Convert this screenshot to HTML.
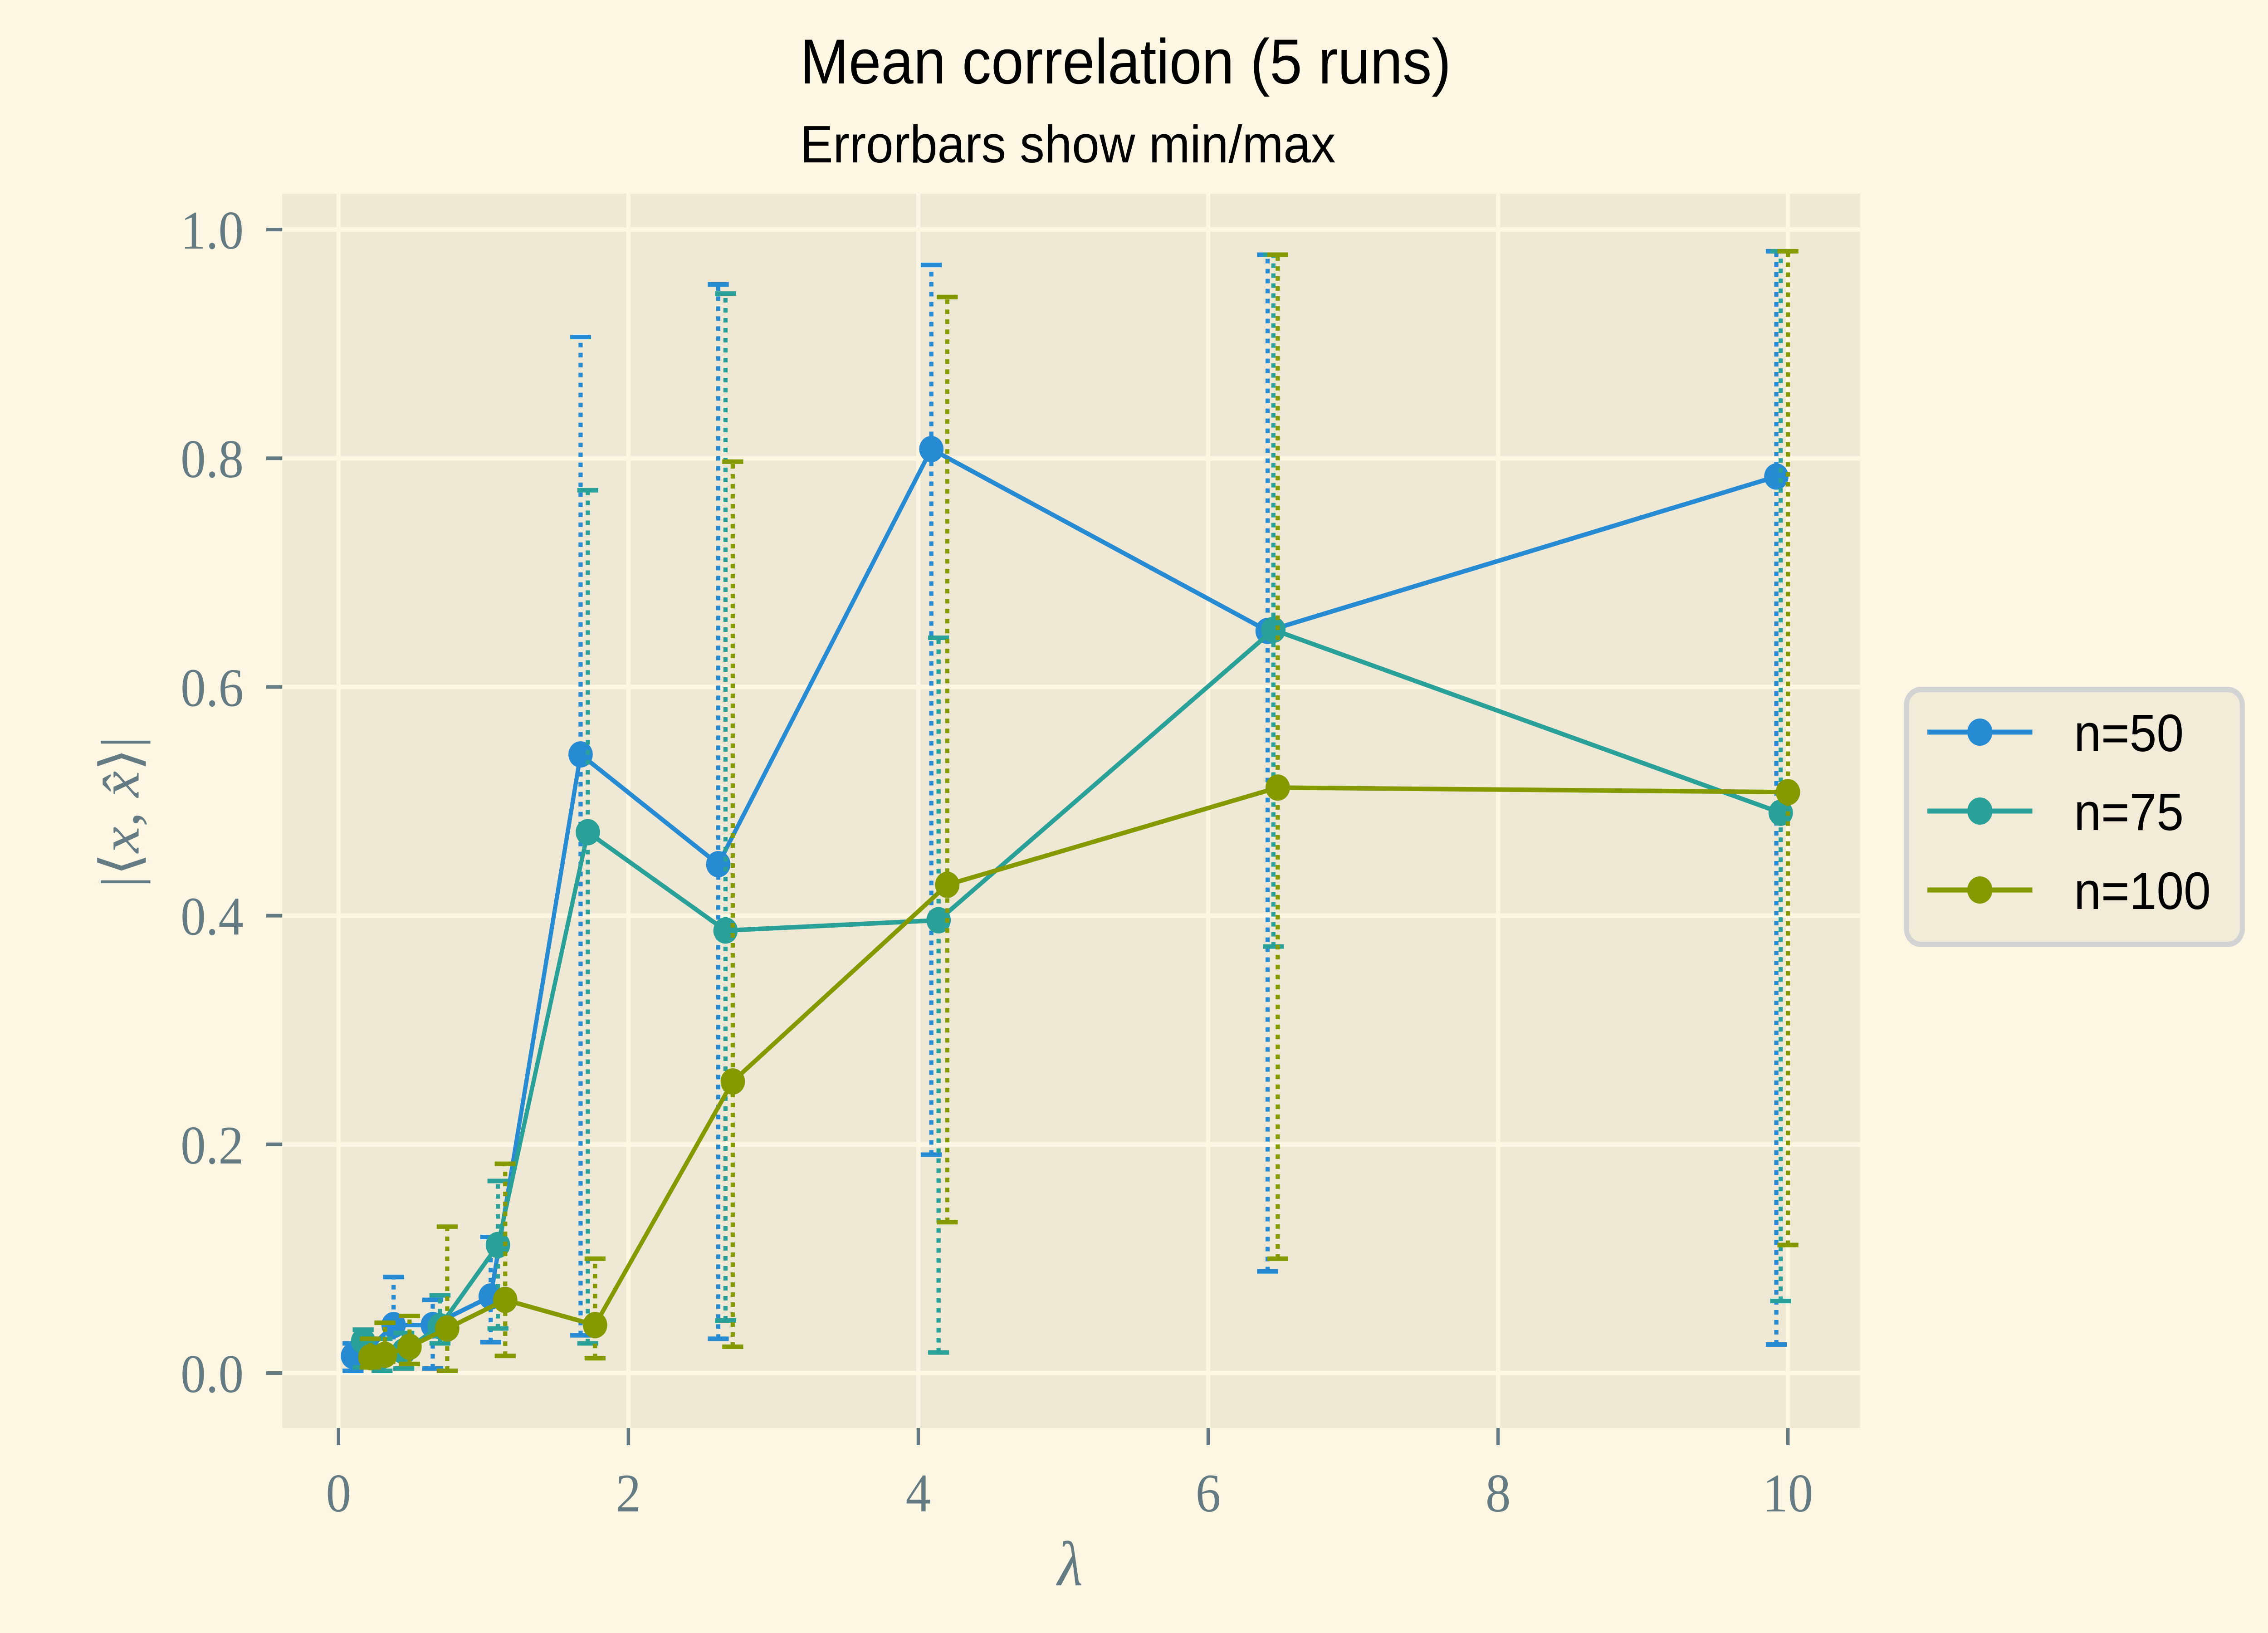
<!DOCTYPE html>
<html><head><meta charset="utf-8"><style>html,body{margin:0;padding:0;background:#fdf6e3;width:100%;height:100%;overflow:hidden}svg{display:block;position:fixed;left:0;top:0;width:100vw;height:100vh}</style></head>
<body>
<svg id="chart" xmlns="http://www.w3.org/2000/svg" viewBox="0 0 5400 3600" preserveAspectRatio="none">
<rect x="0" y="0" width="5400" height="3600" fill="#fdf6e3"/>
<rect x="672" y="427" width="3757" height="2721" fill="#eee8d5"/>
<g id="grid"></g>
<g id="ticks"></g>
<g id="series"></g>
<text x="1905" y="184" font-family="Liberation Sans, DejaVu Sans, sans-serif" font-size="140" textLength="1550" lengthAdjust="spacingAndGlyphs" fill="#000">Mean correlation (5 runs)</text>
<text x="1905" y="358" font-family="Liberation Sans, DejaVu Sans, sans-serif" font-size="116" textLength="1275" lengthAdjust="spacingAndGlyphs" fill="#000">Errorbars show min/max</text>
<text x="2548" y="3495" text-anchor="middle" font-family="Liberation Serif, serif" font-style="italic" font-size="140" fill="#657b83">λ</text>
<text transform="translate(330,1790) rotate(-90)" text-anchor="middle" font-family="Liberation Serif, DejaVu Serif, serif" font-size="130" fill="#657b83">|⟨<tspan font-style="italic">x</tspan>, <tspan font-style="italic">x̂</tspan>⟩|</text>
<g id="legend">
<rect x="4539" y="1520" width="800" height="562" rx="35" fill="#eee8d5" fill-opacity="0.8" stroke="#d3d3d3" stroke-width="12"/>
</g>
</svg>
<script>
const seriesNames = ["n=50","n=75","n=100"];
const colors = ["#268bd2","#2aa198","#859900"];
const lam50 = [0.1,0.2,0.38,0.65,1.05,1.67,2.62,4.09,6.41,9.92];
const mean50 = [0.015,0.02,0.042,0.042,0.067,0.541,0.445,0.808,0.649,0.784];
const min50 = [0.002,0.005,0.012,0.004,0.027,0.033,0.03,0.191,0.089,0.025];
const max50 = [0.026,0.03,0.084,0.064,0.119,0.906,0.952,0.969,0.978,0.981];
const lam75 = [0.17,0.3,0.45,0.7,1.1,1.72,2.67,4.14,6.45,9.95];
const mean75 = [0.028,0.015,0.019,0.041,0.112,0.473,0.387,0.396,0.65,0.49];
const min75 = [0.005,0.002,0.004,0.026,0.039,0.026,0.046,0.018,0.373,0.063];
const max75 = [0.038,0.03,0.035,0.068,0.168,0.772,0.944,0.643,0.978,0.981];
const lam100 = [0.22,0.32,0.49,0.75,1.15,1.77,2.72,4.2,6.48,10];
const mean100 = [0.014,0.016,0.023,0.039,0.064,0.042,0.255,0.427,0.512,0.508];
const min100 = [0.005,0.01,0.008,0.002,0.015,0.013,0.023,0.132,0.1,0.112];
const max100 = [0.03,0.044,0.05,0.128,0.183,0.1,0.797,0.941,0.978,0.981];
const xTicks = [0,2,4,6,8,10];
const yTicks = [0,0.2,0.4,0.6,0.8,1.0];
const yTickLabels = ["0.0","0.2","0.4","0.6","0.8","1.0"];

const NS="http://www.w3.org/2000/svg";
const X0=806, XS=345.1, Y0=3027, YS=2521;
function xs(v){return X0+v*XS;}
function ys(v){return Y0-v*YS;}
function mk(tag,attrs,parent){const e=document.createElementNS(NS,tag);for(const k in attrs)e.setAttribute(k,attrs[k]);parent.appendChild(e);return e;}
const grid=document.getElementById('grid'), ticks=document.getElementById('ticks'), ser=document.getElementById('series'), leg=document.getElementById('legend');
xTicks.forEach(t=>{
  const g=mk('line',{x1:xs(t),x2:xs(t),y1:427,y2:3148,stroke:'#fdf6e3','stroke-width':10},grid);
  
  
  const tk=mk('line',{x1:xs(t),x2:xs(t),y1:3148,y2:3186,stroke:'#657b83','stroke-width':8},ticks);
  
  
  const tx=mk('text',{x:xs(t),y:3332,'text-anchor':'middle','font-family':'Liberation Serif, serif','font-size':120,fill:'#657b83'},ticks);
  
  
  tx.textContent=String(t);
});
yTicks.forEach((t,i)=>{
  const g=mk('line',{x1:672,x2:4429,y1:ys(t),y2:ys(t),stroke:'#fdf6e3','stroke-width':10},grid);
  
  
  const tk=mk('line',{x1:634,x2:672,y1:ys(t),y2:ys(t),stroke:'#657b83','stroke-width':8},ticks);
  
  
  const tx=mk('text',{x:580,y:ys(t)+42,'text-anchor':'end','font-family':'Liberation Serif, serif','font-size':120,fill:'#657b83'},ticks);
  
  
  tx.textContent=yTickLabels[i];
});
const all=[[lam50,mean50,min50,max50],[lam75,mean75,min75,max75],[lam100,mean100,min100,max100]];
all.forEach((s,si)=>{
  const [L,M,MN,MX]=s; const c=colors[si];
  const g=mk('g',{},ser);
  
  
  L.forEach((l,i)=>{
    const x=xs(l);
    const e=mk('line',{x1:x,x2:x,y1:ys(MN[i]),y2:ys(MX[i]),stroke:c,'stroke-width':10,'stroke-dasharray':'10 12'},g);
    
    
    [MN[i],MX[i]].forEach(v=>{
      const cp=mk('line',{x1:x-25,x2:x+25,y1:ys(v),y2:ys(v),stroke:c,'stroke-width':10},g);
      
      
    });
  });
  const pl=mk('polyline',{points:L.map((l,i)=>xs(l)+','+ys(M[i])).join(' '),fill:'none',stroke:c,'stroke-width':10,'stroke-linejoin':'round'},g);
  
  
  L.forEach((l,i)=>{
    const p=mk('circle',{cx:xs(l),cy:ys(M[i]),r:29,fill:c},g);
    
    
  });
  const ry=1614+si*174;
  const ll=mk('line',{x1:4589,x2:4839,y1:ry,y2:ry,stroke:c,'stroke-width':11},leg);
  
  
  const lm=mk('circle',{cx:4714,cy:ry,r:30,fill:c},leg);
  
  
  const lt=mk('text',{x:4938,y:ry+42,'font-family':'Liberation Sans, DejaVu Sans, sans-serif','font-size':116,fill:'#000'},leg);
  
  
  lt.textContent=seriesNames[si];
});
</script>
</body></html>
